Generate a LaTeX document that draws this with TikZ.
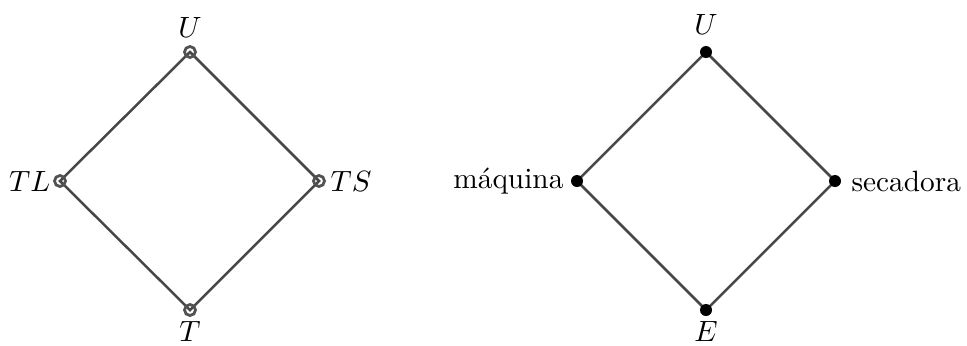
\documentclass[tikz,border=0pt]{standalone}
\begin{document}
\begin{tikzpicture}[x=0.341pt,y=-0.341pt,
  edge/.style={draw=black!72,line width=0.85pt},
  opendot/.style={circle,draw=black!68,line width=0.95pt,inner sep=0pt,minimum size=11*0.341pt},
  fulldot/.style={circle,fill=black,inner sep=0pt,minimum size=12*0.341pt},
  lab/.style={inner sep=0pt}]
\useasboundingbox (0,0) rectangle (967,345);
% left
\coordinate (lU) at (190,52);
\coordinate (lL) at (60,181);
\coordinate (lR) at (319,181);
\coordinate (lT) at (190,310);
\draw[edge] (lL) -- (lU) -- (lR) -- (lT) -- cycle;
\node[opendot] (nU) at (lU) {};
\node[opendot] (nL) at (lL) {};
\node[opendot] (nR) at (lR) {};
\node[opendot] (nT) at (lT) {};
\node[lab] (tU) at (190,27) {$U$};
\node[lab,anchor=east] (tL) at (51,181) {$TL$};
\node[lab,anchor=west] (tR) at (330,181) {$TS$};
\node[lab] (tT) at (190,331) {$T$};
% right
\coordinate (rU) at (706,52);
\coordinate (rL) at (577,181);
\coordinate (rR) at (835,181);
\coordinate (rE) at (706,310);
\draw[edge] (rL) -- (rU) -- (rR) -- (rE) -- cycle;
\node[fulldot] (mU) at (rU) {};
\node[fulldot] (mL) at (rL) {};
\node[fulldot] (mR) at (rR) {};
\node[fulldot] (mE) at (rE) {};
\node[lab] (sU) at (706,24) {$U$};
\node[lab,anchor=east] (sL) at (564,181) {máquina};
\node[lab,anchor=west] (sR) at (851,181) {secadora};
\node[lab] (sE) at (706,331) {$E$};
\end{tikzpicture}
\end{document}
